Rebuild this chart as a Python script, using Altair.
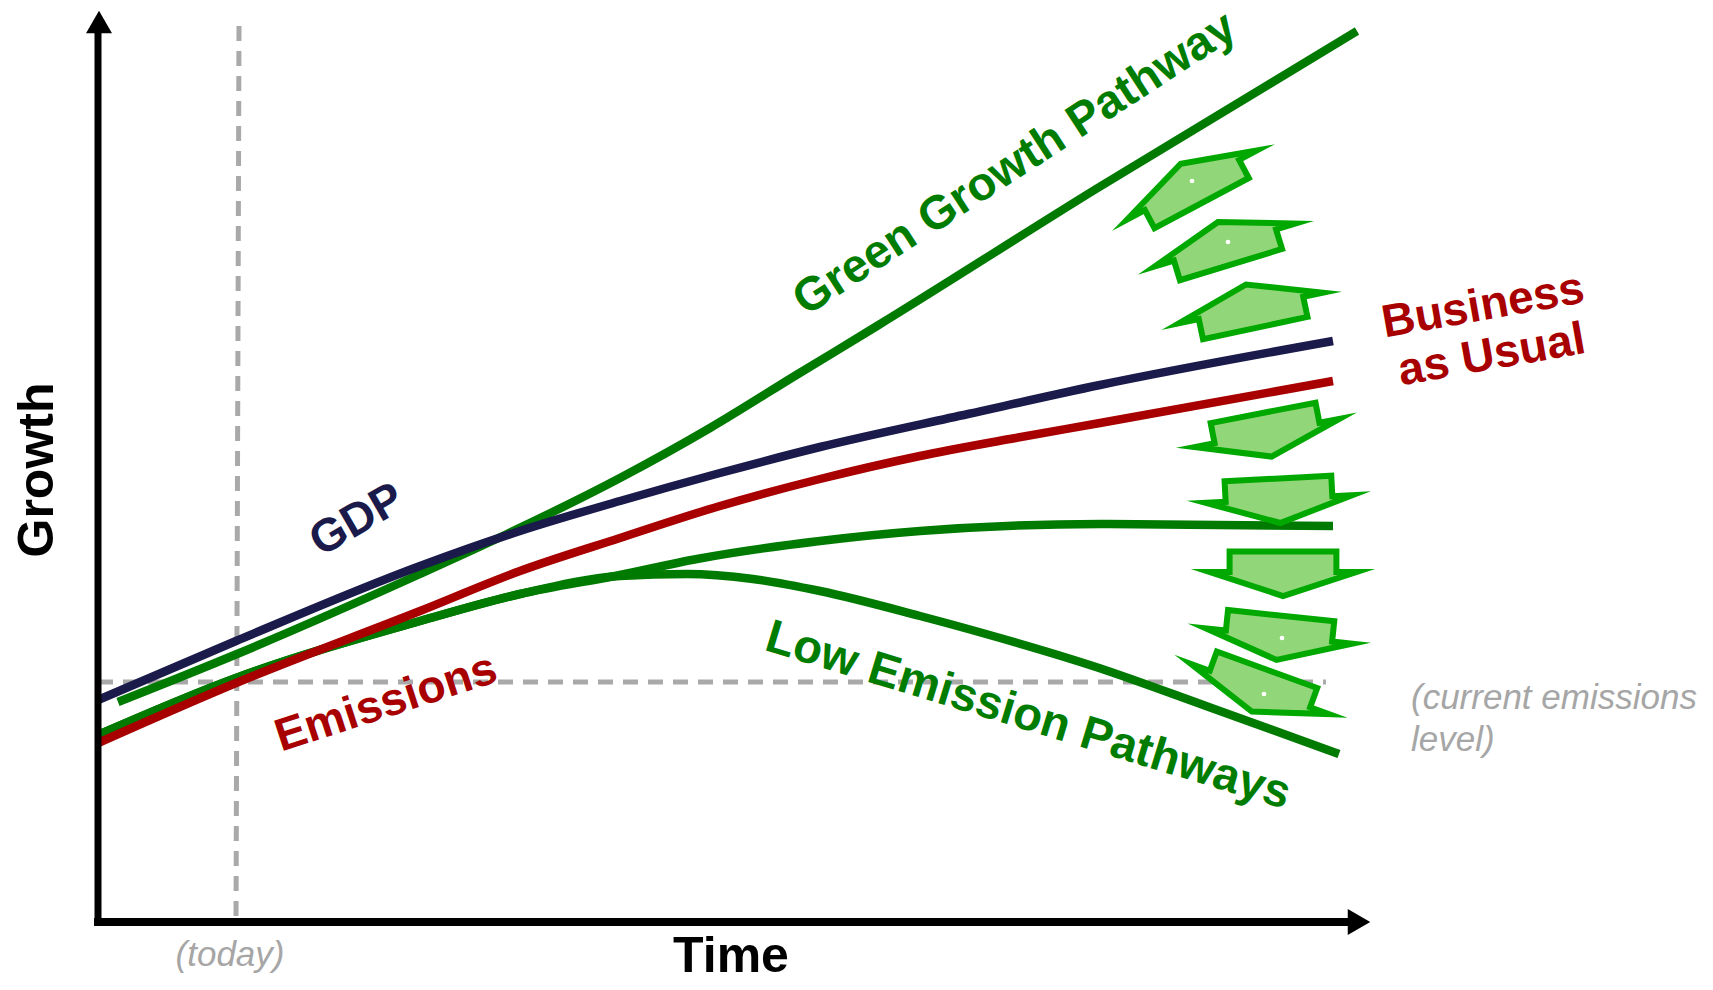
import altair as alt
import pandas as pd

# Coordinate frame: t = time (0 at the vertical axis), g = growth (0 at the horizontal axis)
X_DOMAIN = [-90, 1600]
Y_DOMAIN = [-54, 914]

# ---- curves ----
gdp_t = [0, 138, 322, 422, 522, 622, 722, 870, 1002, 1235]
gdp_g = [222, 281, 356, 391, 421, 449, 475, 508, 537, 581]

bau_t = [0, 138, 322, 422, 522, 622, 722, 822, 912, 1002, 1235]
bau_g = [179, 239, 311, 351, 384, 416, 443, 466, 483, 499, 541]

ggp_t = [20, 139, 322, 409, 522, 612, 700, 779, 998, 1259]
ggp_g = [220, 268, 348, 388, 444, 494, 548, 596, 733, 891]

lep_hi_t = [0, 138, 322, 422, 522, 599, 722, 822, 1002, 1235]
lep_hi_g = [187, 244, 301, 328, 347, 363, 381, 391, 398, 396]

lep_lo_t = [0, 138, 322, 422, 522, 589, 655, 722, 822, 888, 998, 1108, 1241]
lep_lo_g = [187, 244, 301, 328, 346, 348, 343, 331, 306, 288, 255, 216, 168]

# ---- reference guides ----
today_t = [141, 138]
today_g = [896, 0]
current_level_g = 240
current_level_t = [0, 1228]

# ---- green change arrows (centre, rotation) ----
arrow_t = [1094, 1127, 1153, 1169, 1181, 1185, 1181, 1162]
arrow_g = [737, 677, 614, 489, 423, 350, 286, 233]
arrow_angle = [152, 163, 168, 349, 357, 0, 6, 20]
dot_t = [1094, 1130, 1184, 1166]
dot_g = [741, 680, 284, 228]

# ---- labels ----
label_text = ["GDP", "Emissions", "Green Growth Pathway", "Business\nas Usual", "Low Emission Pathways"]
label_t = [259, 288, 917, 1385, 930]
label_g = [402, 219, 758, 616, 206]
label_angle = [330, 342, 327, 350, 17]
label_color = ["#1a1a4b", "#a80000", "#007d00", "#a80000", "#007d00"]
label_size = [46, 46, 47, 46, 47]

note_text = ["(today)", "(current emissions\nlevel)"]
note_t = [132, 1313]
note_g = [-44, 213]
note_align = ["center", "left"]

FONT = "Liberation Sans, Arial, sans-serif"
ARROW_PATH = "M-0.6,-0.23 L0.6,-0.23 L0.6,0 L0.825,0 L0,0.27 L-0.825,0 L-0.6,0 Z"

xs = alt.Scale(domain=X_DOMAIN, nice=False, zero=False)
ys = alt.Scale(domain=Y_DOMAIN, nice=False, zero=False)


def X(f="t"):
    return alt.X(f"{f}:Q", scale=xs, axis=None)


def Y(f="g"):
    return alt.Y(f"{f}:Q", scale=ys, axis=None)


def curve(ts, gs, color):
    df = pd.DataFrame({"t": ts, "g": gs, "o": list(range(len(ts)))})
    return alt.Chart(df).mark_line(
        strokeWidth=8.5, interpolate="monotone", color=color, strokeCap="butt"
    ).encode(x=X(), y=Y(), order="o:Q")


# dashed guides
vdash = alt.Chart(pd.DataFrame({"t": [today_t[0]], "t2": [today_t[1]],
                                "g": [today_g[0]], "g2": [today_g[1]]})).mark_rule(
    strokeDash=[15, 10], strokeWidth=5, color="#a9a9a9").encode(
    x=X(), x2="t2:Q", y=Y(), y2="g2:Q")
hdash = alt.Chart(pd.DataFrame({"t": [current_level_t[0]], "t2": [current_level_t[1]],
                                "g": [current_level_g]})).mark_rule(
    strokeDash=[15, 10], strokeWidth=5, color="#a9a9a9").encode(
    x=X(), x2="t2:Q", y=Y())

# axes
yaxis = alt.Chart(pd.DataFrame({"t": [0], "g": [-4], "g2": [892]})).mark_rule(
    strokeWidth=7, color="black").encode(x=X(), y=Y(), y2="g2:Q")
xaxis = alt.Chart(pd.DataFrame({"t": [-4], "t2": [1250], "g": [0]})).mark_rule(
    strokeWidth=8, color="black").encode(x=X(), x2="t2:Q", y=Y())
yhead = alt.Chart(pd.DataFrame({"t": [1], "g": [900]})).mark_point(
    shape="triangle-up", filled=True, size=676, color="black", opacity=1).encode(x=X(), y=Y())
xhead = alt.Chart(pd.DataFrame({"t": [1261], "g": [0]})).mark_point(
    shape="triangle-right", filled=True, size=676, color="black", opacity=1).encode(x=X(), y=Y())

# curves (greens underneath, then emissions, then GDP)
c_lep_lo = curve(lep_lo_t, lep_lo_g, "#007a00")
c_lep_hi = curve(lep_hi_t, lep_hi_g, "#007a00")
c_ggp = curve(ggp_t, ggp_g, "#007a00")
c_bau = curve(bau_t, bau_g, "#a80000")
c_gdp = curve(gdp_t, gdp_g, "#1a1a4b")

# arrows
arrows = alt.Chart(pd.DataFrame({"t": arrow_t, "g": arrow_g, "a": arrow_angle})).mark_point(
    shape=ARROW_PATH, filled=True, fill="#92d67a", stroke="#00a800", strokeWidth=6,
    strokeJoin="miter", strokeMiterLimit=10, size=31684, opacity=1, fillOpacity=1,
    strokeOpacity=1).encode(x=X(), y=Y(), angle=alt.Angle("a:Q", scale=None))
dots = alt.Chart(pd.DataFrame({"t": dot_t, "g": dot_g})).mark_point(
    shape="circle", filled=True, color="white", size=22, opacity=1).encode(x=X(), y=Y())

# labels
labels = alt.Chart(pd.DataFrame({"text": label_text, "t": label_t, "g": label_g,
                                 "a": label_angle, "c": label_color, "s": label_size})).mark_text(
    font=FONT, fontWeight="bold", align="center", baseline="middle", lineBreak="\n",
    lineHeight=50).encode(
    x=X(), y=Y(), text="text:N", angle=alt.Angle("a:Q", scale=None),
    color=alt.Color("c:N", scale=None), size=alt.Size("s:Q", scale=None))

notes_df = pd.DataFrame({"text": note_text, "t": note_t, "g": note_g, "al": note_align})
notes = alt.Chart(notes_df).transform_filter(alt.datum.al == "center").mark_text(
    font=FONT, fontStyle="italic", fontSize=35, color="#a6a6a6", align="center",
    baseline="alphabetic").encode(x=X(), y=Y(), text="text:N")
notes2 = alt.Chart(notes_df).transform_filter(alt.datum.al == "left").mark_text(
    font=FONT, fontStyle="italic", fontSize=35, color="#a6a6a6", align="left",
    baseline="alphabetic", lineBreak="\n", lineHeight=42).encode(x=X(), y=Y(), text="text:N")

growth_title = alt.Chart(pd.DataFrame({"text": ["Growth"], "t": [-60], "g": [452]})).mark_text(
    font=FONT, fontWeight="bold", fontSize=50, color="black", align="center",
    baseline="middle", angle=270).encode(x=X(), y=Y(), text="text:N")
time_title = alt.Chart(pd.DataFrame({"text": ["Time"], "t": [633], "g": [-50]})).mark_text(
    font=FONT, fontWeight="bold", fontSize=50, color="black", align="center",
    baseline="alphabetic").encode(x=X(), y=Y(), text="text:N")

chart = alt.layer(
    vdash, hdash, c_lep_lo, c_lep_hi, c_ggp, c_bau, c_gdp,
    arrows, dots, yaxis, xaxis, yhead, xhead, labels, notes, notes2,
    growth_title, time_title,
).properties(
    width=1690, height=968, autosize=alt.AutoSizeParams(type="none"), padding=0,
    background="white",
).configure_view(stroke=None)

chart.save("out.html", embed_options={"renderer": "svg", "actions": False})
